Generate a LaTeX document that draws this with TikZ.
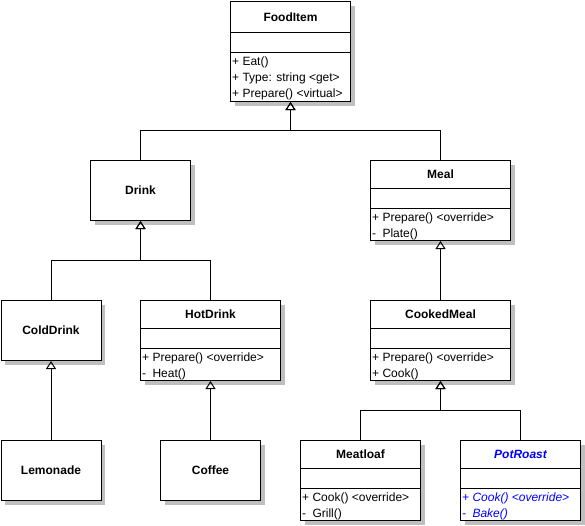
\documentclass[tikz,border=0pt]{standalone}
\usepackage{fontspec}
\setmainfont{Liberation Sans}
\usetikzlibrary{arrows.meta, calc}

\begin{document}
\begin{tikzpicture}[
    x=1pt, y=-1pt,
    cls/.style={rectangle, draw=black, line width=1pt, fill=white, anchor=north west, inner sep=0pt,
        preaction={draw=none, fill=black!25, transform canvas={xshift=4pt, yshift=-4pt}}},
    title/.style={font=\fontsize{12}{14}\selectfont\bfseries, inner sep=0pt},
    ops/.style={font=\fontsize{12}{16}\selectfont, align=left, anchor=north west, inner sep=0pt},
    sep/.style={line width=1pt},
    inherit/.style={-{Triangle[open, length=8pt, width=10pt]}, line width=1pt},
]
\useasboundingbox (0,0) rectangle (585,525);

% ========== ROOT ==========
\node[cls, minimum width=120pt, minimum height=100pt] (food) at (230,1) {};
\node[title] (foodT) at ($(food.north)+(0,16)$) {FoodItem};
\draw[sep] ($(food.north west)+(0,31)$) -- ($(food.north east)+(0,31)$);
\draw[sep] ($(food.north west)+(0,51)$) -- ($(food.north east)+(0,51)$);
\node[ops] (foodO) at ($(food.north west)+(2,55.5)$) {+ Eat()\\+ Type: string <get>\\+ Prepare() <virtual>};

% ========== LEVEL 1 ==========
\node[cls, minimum width=100pt, minimum height=60pt] (drink) at (90,160) {};
\node[title] (drinkT) at (drink.center) {Drink};

\node[cls, minimum width=140pt, minimum height=80pt] (meal) at (370,160) {};
\node[title] (mealT) at ($(meal.north)+(0,14)$) {Meal};
\draw[sep] ($(meal.north west)+(0,28)$) -- ($(meal.north east)+(0,28)$);
\draw[sep] ($(meal.north west)+(0,48)$) -- ($(meal.north east)+(0,48)$);
\node[ops] (mealO) at ($(meal.north west)+(2,52.5)$) {+ Prepare() <override>\\\rlap{-}\phantom{+ }Plate()};

% ========== LEVEL 2 ==========
\node[cls, minimum width=100pt, minimum height=60pt] (colddrink) at (0.5,300) {};
\node[title] (colddrinkT) at (colddrink.center) {ColdDrink};

\node[cls, minimum width=140pt, minimum height=80pt] (hotdrink) at (140,300) {};
\node[title] (hotdrinkT) at ($(hotdrink.north)+(0,14)$) {HotDrink};
\draw[sep] ($(hotdrink.north west)+(0,28)$) -- ($(hotdrink.north east)+(0,28)$);
\draw[sep] ($(hotdrink.north west)+(0,48)$) -- ($(hotdrink.north east)+(0,48)$);
\node[ops] (hotdrinkO) at ($(hotdrink.north west)+(2,52.5)$) {+ Prepare() <override>\\\rlap{-}\phantom{+ }Heat()};

\node[cls, minimum width=140pt, minimum height=80pt] (cookedmeal) at (370,300) {};
\node[title] (cookedmealT) at ($(cookedmeal.north)+(0,14)$) {CookedMeal};
\draw[sep] ($(cookedmeal.north west)+(0,28)$) -- ($(cookedmeal.north east)+(0,28)$);
\draw[sep] ($(cookedmeal.north west)+(0,48)$) -- ($(cookedmeal.north east)+(0,48)$);
\node[ops] (cookedmealO) at ($(cookedmeal.north west)+(2,52.5)$) {+ Prepare() <override>\\+ Cook()};

% ========== LEVEL 3 ==========
\node[cls, minimum width=100pt, minimum height=60pt] (lemonade) at (0.5,440) {};
\node[title] (lemonadeT) at (lemonade.center) {Lemonade};

\node[cls, minimum width=100pt, minimum height=60pt] (coffee) at (160,440) {};
\node[title] (coffeeT) at (coffee.center) {Coffee};

\node[cls, minimum width=120pt, minimum height=80pt] (meatloaf) at (300,440) {};
\node[title] (meatloafT) at ($(meatloaf.north)+(0,14)$) {Meatloaf};
\draw[sep] ($(meatloaf.north west)+(0,28)$) -- ($(meatloaf.north east)+(0,28)$);
\draw[sep] ($(meatloaf.north west)+(0,48)$) -- ($(meatloaf.north east)+(0,48)$);
\node[ops] (meatloafO) at ($(meatloaf.north west)+(2,52.5)$) {+ Cook() <override>\\\rlap{-}\phantom{+ }Grill()};

\node[cls, minimum width=120pt, minimum height=80pt] (potroast) at (460,440) {};
\node[title, blue, font=\fontsize{12}{14}\selectfont\bfseries\itshape] (potroastT) at ($(potroast.north)+(0,14)$) {PotRoast};
\draw[sep] ($(potroast.north west)+(0,28)$) -- ($(potroast.north east)+(0,28)$);
\draw[sep] ($(potroast.north west)+(0,48)$) -- ($(potroast.north east)+(0,48)$);
\node[ops, blue, font=\fontsize{12}{16}\selectfont\itshape] (potroastO) at ($(potroast.north west)+(2,52.5)$) {+ Cook() <override>\\\rlap{-}\phantom{+ }Bake()};

% ========== INHERITANCE ==========
\draw[inherit] (drink.north) -- ++(0,-30) -| (food.south);
\draw[inherit] (meal.north) -- ++(0,-30) -| (food.south);

\draw[inherit] (colddrink.north) -- ++(0,-40) -| (drink.south);
\draw[inherit] (hotdrink.north) -- ++(0,-40) -| (drink.south);

\draw[inherit] (lemonade.north) -- (colddrink.south);
\draw[inherit] (coffee.north) -- (hotdrink.south);
\draw[inherit] (cookedmeal.north) -- (meal.south);

\draw[inherit] (meatloaf.north) -- ++(0,-30) -| (cookedmeal.south);
\draw[inherit] (potroast.north) -- ++(0,-30) -| (cookedmeal.south);

\end{tikzpicture}
\end{document}
